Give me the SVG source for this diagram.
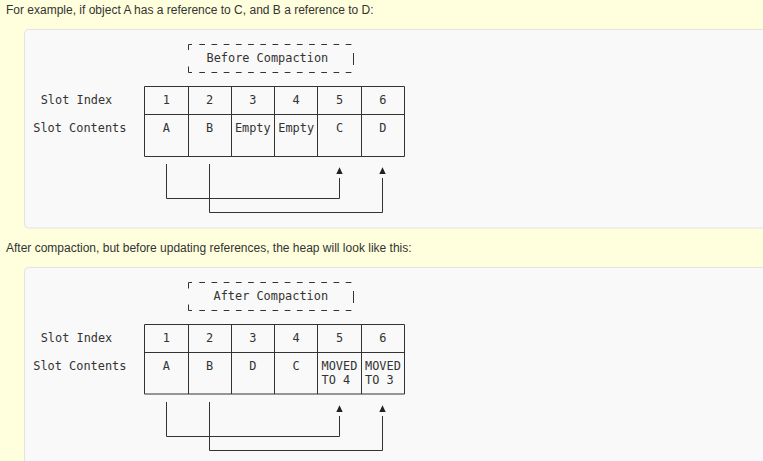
<svg xmlns="http://www.w3.org/2000/svg" width="763" height="461" viewBox="0 0 763 461">
<style>
.page{font-family:"Liberation Sans",Arial,sans-serif;font-size:12px;fill:#333}
.mono{font-family:"DejaVu Sans Mono","Liberation Mono",monospace;font-size:11.9px;fill:#333}
.c{text-anchor:middle}
.panel{fill:#f9f9f9;stroke:#e3e3e3;stroke-width:1}
.ln{fill:none;stroke:#333;stroke-width:1}
.dash{fill:none;stroke:#333;stroke-width:1;stroke-dasharray:5.7 6.5}
.arr{fill:#222}
</style>
<rect x="0" y="0" width="763" height="461" fill="#ffffdd"/>
<text class="page" x="6" y="13.5">For example, if object A has a reference to C, and B a reference to D:</text>
<text class="page" x="6" y="251.5">After compaction, but before updating references, the heap will look like this:</text>
<rect class="panel" x="24.5" y="29.5" width="760" height="198.5" rx="4"/>
<rect class="panel" x="24.5" y="267.5" width="760" height="220" rx="4"/>

<!-- Panel 1 -->
<g id="before-title">
<path class="ln" d="M188.5 50 V44.5 H192 M188.5 66.5 V72.5 H192 M353.5 53 V65"/>
<path class="dash" d="M199.3 44.5 H352 M199.3 72.5 H352"/>
<text class="mono" x="206.5" y="61.7">Before Compaction</text>
</g>
<g id="before-labels">
<text class="mono" x="40.7" y="104.3">Slot Index</text>
<text class="mono" x="33.3" y="132.3">Slot Contents</text>
</g>
<g id="before-table">
<path class="ln" d="M144.5 86.5 H404.5 V156.5 H144.5 Z M144.5 114.5 H404.5 M188.5 86.5 V156.5 M231.5 86.5 V156.5 M274.5 86.5 V156.5 M317.5 86.5 V156.5 M361.5 86.5 V156.5"/>
<g class="mono c">
<text x="166.3" y="104.3">1</text><text x="209.5" y="104.3">2</text><text x="252.8" y="104.3">3</text><text x="296.2" y="104.3">4</text><text x="339.5" y="104.3">5</text><text x="382.8" y="104.3">6</text>
<text x="166.3" y="132.3">A</text><text x="209.5" y="132.3">B</text><text x="252.8" y="132.3">Empty</text><text x="296.2" y="132.3">Empty</text><text x="339.5" y="132.3">C</text><text x="382.8" y="132.3">D</text>
</g>
</g>

<!-- Panel 2 -->
<g id="after-title">
<path class="ln" d="M188.5 288.5 V282.5 H192 M188.5 304.5 V310.5 H192 M353.5 291 V303"/>
<path class="dash" d="M199.3 282.5 H352 M199.3 310.5 H352"/>
<text class="mono" x="213.5" y="300">After Compaction</text>
</g>
<g id="after-labels">
<text class="mono" x="40.7" y="342">Slot Index</text>
<text class="mono" x="33.3" y="370">Slot Contents</text>
</g>
<g id="after-table">
<path class="ln" d="M144.5 324.5 H404.5 V394 H144.5 Z M144.5 352.5 H404.5 M188.5 324.5 V394 M231.5 324.5 V394 M274.5 324.5 V394 M317.5 324.5 V394 M361.5 324.5 V394"/>
<g class="mono c">
<text x="166.3" y="342">1</text><text x="209.5" y="342">2</text><text x="252.8" y="342">3</text><text x="296.2" y="342">4</text><text x="339.5" y="342">5</text><text x="382.8" y="342">6</text>
<text x="166.3" y="370">A</text><text x="209.5" y="370">B</text><text x="252.8" y="370">D</text><text x="296.2" y="370">C</text>
</g>
<text class="mono" x="321.5" y="370">MOVED</text><text class="mono" x="321.5" y="384">TO 4</text>
<text class="mono" x="365" y="370">MOVED</text><text class="mono" x="365" y="384">TO 3</text>
</g>

<g id="connectors">
<path class="ln" d="M166.5 164 V198.5 H339.5 V178"/>
<path class="ln" d="M209.5 164 V212.5 H382.5 V178"/>
<path class="arr" d="M339.5 167.3 L342.7 174 H336.3 Z"/>
<path class="arr" d="M382.5 167.3 L385.7 174 H379.3 Z"/>
<path class="ln" d="M166.5 402 V436.5 H339.5 V416"/>
<path class="ln" d="M209.5 402 V450.5 H382.5 V416"/>
<path class="arr" d="M339.5 405.3 L342.7 412 H336.3 Z"/>
<path class="arr" d="M382.5 405.3 L385.7 412 H379.3 Z"/>
</g>
</svg>
